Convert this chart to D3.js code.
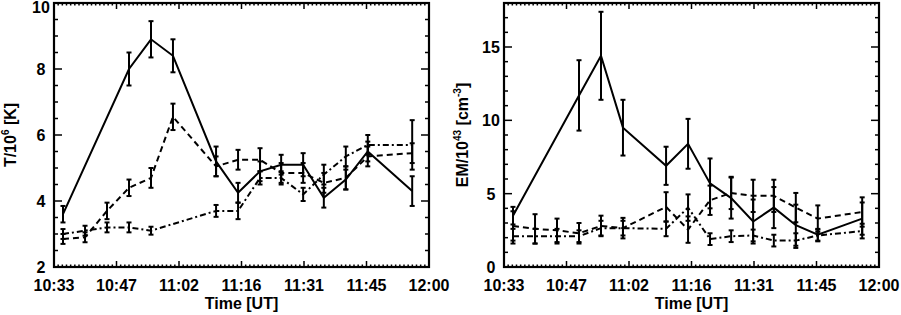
<!DOCTYPE html>
<html>
<head>
<meta charset="utf-8">
<script src="https://cdn.jsdelivr.net/npm/d3@7"></script>
<style>
  body { margin: 0; background: #fff; }
  svg text { font-family: "Liberation Sans", Arial, Helvetica, sans-serif; font-weight: bold; font-size: 16px; fill: #000; }
</style>
</head>
<body>
<svg id="chart" width="901" height="315"></svg>
<script>
// observation times (UT)
const times = ['10:35:05', '10:40:12', '10:45:18', '10:50:24', '10:55:30', '11:00:36', '11:10:36',
  '11:15:42', '11:20:48', '11:25:42', '11:30:48', '11:35:36', '11:40:42', '11:45:48', '11:56:06'];
const xTickLabels = ['10:33', '10:47', '11:02', '11:16', '11:31', '11:45', '12:00'];

// temperature, T / 10^6 K
const tSolid = [3.6, null, null, 8.0, 8.9, 8.4, 5.2, 4.25, 4.9, 5.1, 5.1, 4.1, 4.65, 5.5, 4.3];
const tSolidErr = [0.25, null, null, 0.5, 0.55, 0.5, 0.45, 0.3, 0.3, 0.3, 0.35, 0.3, 0.3, 0.3, 0.45];
const tDash = [2.85, 2.9, 3.7, 4.4, 4.7, 6.55, 5.05, 5.25, 5.25, 4.85, 4.85, 4.55, 4.7, 5.35, 5.45];
const tDashErr = [0.15, 0.15, 0.25, 0.25, 0.3, 0.4, 0.3, 0.3, 0.35, 0.3, 0.3, 0.3, 0.35, 0.3, 0.3];
const tDashDot = [3.0, 3.1, 3.2, 3.2, 3.1, null, 3.7, 3.7, 4.7, 4.7, 4.2, 4.8, 5.35, 5.7, 5.7];
const tDashDotErr = [0.15, 0.15, 0.15, 0.15, 0.12, null, 0.18, 0.25, 0.2, 0.2, 0.2, 0.3, 0.3, 0.3, 0.75];

// emission measure, EM / 10^43 cm^-3
const emSolid = [3.5, null, null, 11.7, 14.4, 9.5, 6.9, 8.4, 5.7, 4.7, 3.1, 4.05, 2.85, 2.2, 3.3];
const emSolidErr = [0.6, null, null, 2.4, 3.0, 1.9, 1.3, 1.7, 1.7, 1.4, 1.5, 1.4, 1.4, 0.4, 1.1];
const emDash = [2.8, 2.6, 2.5, 2.3, 2.8, 2.65, 4.1, 2.55, 4.55, 5.05, 4.85, 4.85, 4.05, 3.3, 3.75];
const emDashErr = [1.0, 1.0, 0.8, 0.7, 0.7, 0.7, 1.0, 0.9, 1.0, 1.1, 1.1, 1.1, 1.0, 0.9, 1.0];
const emDashDot = [2.1, 2.1, 2.1, 2.1, 2.65, 2.65, 2.6, 4.05, 1.9, 2.1, 2.15, 1.8, 1.8, 2.15, 2.45];
const emDashDotErr = [0.5, 0.5, 0.5, 0.4, 0.5, 0.5, 0.5, 0.9, 0.4, 0.4, 0.4, 0.4, 0.5, 0.4, 0.5];

const parseTime = d3.timeParse('%H:%M:%S');
const tStart = parseTime('10:33:00');
const tEnd = parseTime('12:00:00');
const xTickDates = d3.range(7).map(i => new Date(+tStart + i * (tEnd - tStart) / 6));

const svg = d3.select('#chart');

function drawPanel(cfg) {
  const x = d3.scaleTime().domain([tStart, tEnd]).range([cfg.left, cfg.right]);
  const y = d3.scaleLinear().domain(cfg.yDomain).range([cfg.bottom, cfg.top]);
  const g = svg.append('g');

  // minor x ticks (15 per major interval)
  const minorX = d3.range(0, 91).map(i => new Date(+tStart + i * (tEnd - tStart) / 90));
  const minorY = d3.range(cfg.yDomain[0], cfg.yDomain[1] + 1e-9, cfg.yMinor);

  const ticks = g.append('g').attr('stroke', '#000').attr('stroke-width', 1.5);
  minorX.forEach(d => {
    const len = xTickDates.some(t => +t === +d) ? 6 : 2.5;
    ticks.append('line').attr('x1', x(d)).attr('x2', x(d)).attr('y1', cfg.bottom).attr('y2', cfg.bottom - len);
    ticks.append('line').attr('x1', x(d)).attr('x2', x(d)).attr('y1', cfg.top).attr('y2', cfg.top + len);
  });
  minorY.forEach(v => {
    const major = Math.abs(v / cfg.yMajor - Math.round(v / cfg.yMajor)) < 1e-6;
    const len = major ? 8 : 4;
    ticks.append('line').attr('x1', cfg.left).attr('x2', cfg.left + len).attr('y1', y(v)).attr('y2', y(v));
    ticks.append('line').attr('x1', cfg.right).attr('x2', cfg.right - len).attr('y1', y(v)).attr('y2', y(v));
  });

  // frame
  g.append('rect')
    .attr('x', cfg.left).attr('y', cfg.top)
    .attr('width', cfg.right - cfg.left).attr('height', cfg.bottom - cfg.top)
    .attr('fill', 'none').attr('stroke', '#000').attr('stroke-width', 2.2);

  // tick labels
  g.selectAll('.xl').data(xTickDates).enter().append('text')
    .attr('x', d => x(d)).attr('y', cfg.bottom + 24)
    .attr('text-anchor', 'middle')
    .text((d, i) => xTickLabels[i]);

  const majorY = d3.range(cfg.yDomain[0], cfg.yDomain[1] + 1e-9, cfg.yMajor);
  g.selectAll('.yl').data(majorY).enter().append('text')
    .attr('x', cfg.left - 13).attr('y', d => Math.max(y(d) + 6, 13))
    .attr('text-anchor', 'middle')
    .text(d => d);

  g.append('text')
    .attr('x', (cfg.left + cfg.right) / 2).attr('y', cfg.bottom + 42)
    .attr('text-anchor', 'middle')
    .text('Time [UT]');

  const yl = g.append('text')
    .attr('transform', `translate(${cfg.labelX},${(cfg.top + cfg.bottom) / 2}) rotate(-90)`)
    .attr('text-anchor', 'middle');
  cfg.yLabel.forEach(part => {
    const t = yl.append('tspan').text(part.t);
    if (part.sup) t.attr('font-size', 10).attr('dy', -7);
    else if (part.after) t.attr('dy', 7);
  });

  // series
  const line = d3.line()
    .defined(d => d.v !== null)
    .x(d => x(d.t)).y(d => y(d.v));

  cfg.series.forEach(s => {
    const pts = times.map((t, i) => ({ t: parseTime(t), v: s.values[i], e: s.errors[i] }))
      .filter(d => d.v !== null);
    g.append('path').datum(pts)
      .attr('d', line)
      .attr('fill', 'none').attr('stroke', '#000').attr('stroke-width', 2)
      .attr('stroke-dasharray', s.dash);

    const eb = g.append('g').attr('stroke', '#000').attr('stroke-width', 2);
    pts.forEach(d => {
      const xp = x(d.t);
      eb.append('line').attr('x1', xp).attr('x2', xp).attr('y1', y(d.v - d.e)).attr('y2', y(d.v + d.e));
      eb.append('line').attr('x1', xp - 2.5).attr('x2', xp + 2.5).attr('y1', y(d.v - d.e)).attr('y2', y(d.v - d.e));
      eb.append('line').attr('x1', xp - 2.5).attr('x2', xp + 2.5).attr('y1', y(d.v + d.e)).attr('y2', y(d.v + d.e));
    });
  });
}

drawPanel({
  left: 54, right: 429, top: 3, bottom: 267,
  yDomain: [2, 10], yMajor: 2, yMinor: 0.5,
  labelX: 16,
  yLabel: [{ t: 'T/10' }, { t: '6', sup: true }, { t: ' [K]', after: true }],
  series: [
    { values: tSolid, errors: tSolidErr, dash: null },
    { values: tDash, errors: tDashErr, dash: '6,4' },
    { values: tDashDot, errors: tDashDotErr, dash: '6,3,2,3' },
  ],
});

drawPanel({
  left: 504, right: 879, top: 3, bottom: 267,
  yDomain: [0, 18], yMajor: 5, yMinor: 1,
  labelX: 468,
  yLabel: [{ t: 'EM/10' }, { t: '43', sup: true }, { t: ' [cm', after: true }, { t: '-3', sup: true }, { t: ']', after: true }],
  series: [
    { values: emSolid, errors: emSolidErr, dash: null },
    { values: emDash, errors: emDashErr, dash: '6,4' },
    { values: emDashDot, errors: emDashDotErr, dash: '6,3,2,3' },
  ],
});
</script>
</body>
</html>
